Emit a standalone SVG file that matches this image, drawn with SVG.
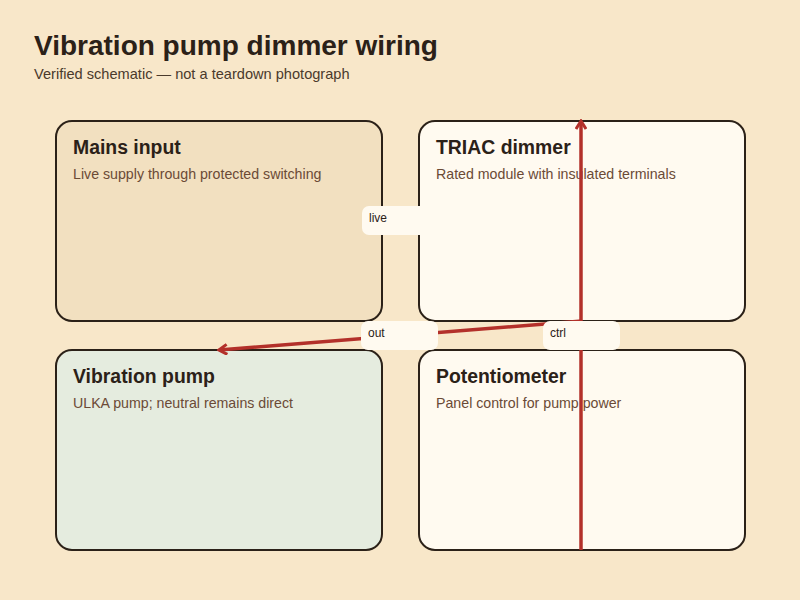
<svg xmlns="http://www.w3.org/2000/svg" width="800" height="600" viewBox="0 0 800 600">
  <defs>
    <style>
      .title { font-family: "Liberation Sans", Arial, sans-serif; font-weight: bold; font-size: 28px; fill: #2b2118; }
      .subtitle { font-family: "Liberation Sans", Arial, sans-serif; font-size: 14.6px; fill: #4a3a2c; }
      .box { stroke: #2b2118; stroke-width: 2; }
      .ntitle { font-family: "Liberation Sans", Arial, sans-serif; font-weight: bold; font-size: 19.4px; fill: #2b2118; }
      .ndesc { font-family: "Liberation Sans", Arial, sans-serif; font-size: 14.2px; fill: #6b4a36; }
      .wire { stroke: #b3302a; stroke-width: 3.5; fill: none; marker-end: url(#arrow); }
      .lbg { fill: #fffaf0; }
      .ltext { font-family: "Liberation Sans", Arial, sans-serif; font-size: 12px; fill: #2b2118; }
    </style>
    <marker id="arrow" viewBox="0 0 12 12" refX="10" refY="6" markerWidth="12" markerHeight="12" markerUnits="userSpaceOnUse" orient="auto">
      <path d="M2,1 L10,6 L2,11" fill="none" stroke="#b3302a" stroke-width="3"/>
    </marker>
  </defs>
  <rect width="800" height="600" fill="#f8e7c9"/>
  <text class="title" x="34" y="55">Vibration pump dimmer wiring</text>
  <text class="subtitle" x="34" y="79">Verified schematic — not a teardown photograph</text>

  <g id="mains">
    <rect class="box" x="56" y="121" width="326" height="200" rx="16" fill="#f2e0c0"/>
    <text class="ntitle" x="73" y="154">Mains input</text>
    <text class="ndesc" x="73" y="179">Live supply through protected switching</text>
  </g>
  <g id="triac">
    <rect class="box" x="419" y="121" width="326" height="200" rx="16" fill="#fffaf0"/>
    <text class="ntitle" x="436" y="154">TRIAC dimmer</text>
    <text class="ndesc" x="436" y="179">Rated module with insulated terminals</text>
  </g>
  <g id="pump">
    <rect class="box" x="56" y="350" width="326" height="200" rx="16" fill="#e5ecdf"/>
    <text class="ntitle" x="73" y="383">Vibration pump</text>
    <text class="ndesc" x="73" y="408">ULKA pump; neutral remains direct</text>
  </g>
  <g id="pot">
    <rect class="box" x="419" y="350" width="326" height="200" rx="16" fill="#fffaf0"/>
    <text class="ntitle" x="436" y="383">Potentiometer</text>
    <text class="ndesc" x="436" y="408">Panel control for pump power</text>
  </g>

  <g id="connectors">
    <line class="wire" x1="382" y1="221" x2="419" y2="221"/>
    <line class="wire" x1="582" y1="321" x2="219" y2="350"/>
    <line class="wire" x1="581" y1="550" x2="581" y2="121"/>
    <g id="label-live">
      <rect class="lbg" x="362" y="206" width="77" height="29" rx="7"/>
      <text class="ltext" x="369" y="222">live</text>
    </g>
    <g id="label-out">
      <rect class="lbg" x="361" y="321" width="77" height="29" rx="7"/>
      <text class="ltext" x="368" y="337">out</text>
    </g>
    <g id="label-ctrl">
      <rect class="lbg" x="543" y="321" width="77" height="29" rx="7"/>
      <text class="ltext" x="550" y="337">ctrl</text>
    </g>
  </g>
</svg>
